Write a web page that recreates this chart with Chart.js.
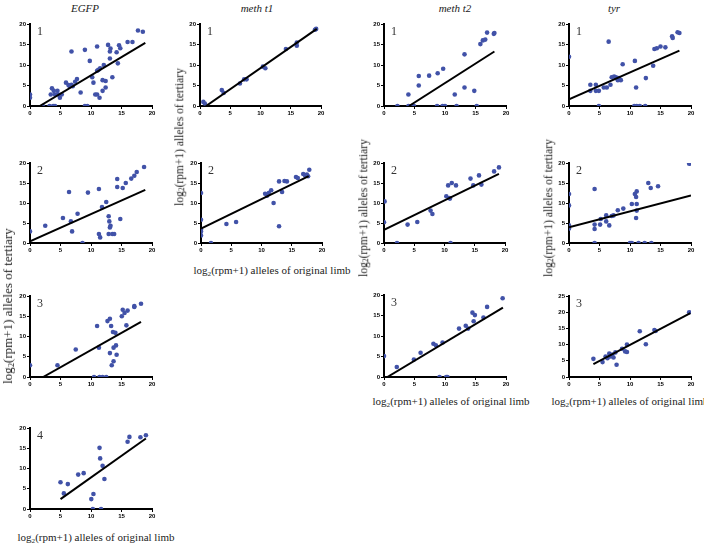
<!DOCTYPE html>
<html>
<head>
<meta charset="utf-8">
<script src="https://cdn.jsdelivr.net/npm/chart.js@4.4.1/dist/chart.umd.min.js"></script>
<style>
  body { margin: 0; background: #fff; width: 704px; height: 547px; position: relative; overflow: hidden; }
  canvas { position: absolute; }
  .txt { position: absolute; font-family: "Liberation Serif", "Times New Roman", serif; font-size: 11px; color: #222; white-space: nowrap; transform: translate(-50%, -50%); }
  .ttl { font-style: italic; font-size: 11px; }
  .rot { transform: translate(-50%, -50%) rotate(-90deg); font-size: 11.5px; }
  .big { font-size: 13px; }
  sub { font-size: 0.65em; vertical-align: -0.2em; }
</style>
</head>
<body>
<script>
// x = log2(rpm+1) original limb, y = log2(rpm+1) tertiary
const egfp1 = [[0,2.8],[0,2.0],[2.1,0],[3.2,0],[3.8,0],[4.1,0],[3.6,4.3],[3.9,3.7],[3.4,2.8],[4.1,2.8],
  [4.5,3.7],[4.6,2.8],[4.9,2.0],[5.2,2.8],[5.9,5.7],[6.3,5.1],[6.5,4.8],[6.8,5.2],[7.0,4.8],[6.8,13.3],
  [7.4,5.9],[7.7,6.6],[8.3,3.3],[9.0,13.7],[9.0,0],[9.4,0],[9.8,11],[10.2,7],[10.4,5.7],[11,8.6],
  [11,14.5],[10.7,2.8],[11,2.8],[11.4,2.0],[11.2,8.8],[11.5,9.2],[11.9,3.7],[11.9,6.3],[12.1,10],[12.4,6.1],
  [12.4,4.5],[12.8,14.9],[13.1,13.3],[13.1,11.6],[13.2,14],[13.5,7],[14.2,13.1],[14.4,10.4],[14.6,14.8],[14.8,14.1],
  [16,15.6],[16.8,15.6],[17.7,18.4],[18.5,18.1]];
const egfp2 = [[0,2.9],[2.5,4.3],[5.4,6.25],[6.4,12.75],[6.7,5.4],[6.9,2.9],[7.8,7.3],[8.6,0],[9.5,12.6],[11.3,13.5],
  [11.3,2.25],[11.5,1.4],[11.8,9],[12.5,10.25],[12.9,6.7],[13,5.4],[13.2,4.3],[13.1,3.9],[12.9,2.25],[13.5,2.25],
  [13.8,2.25],[14.3,16],[14.3,14],[14.8,6],[15.2,13.75],[15.7,15],[16.6,16.1],[17.1,16.8],[17.5,17.75],[18.7,19]];
const egfp3 = [[0,2.9],[4.5,2.9],[7.5,6.8],[10.5,0],[11.4,0],[11.9,0],[12.5,0],[11,12.6],[11.3,7.25],[12.7,13.8],
  [13.1,14.4],[13.3,12.6],[13.1,5.9],[13.4,2.9],[13.7,3.9],[13.6,11.1],[14,10.9],[13.7,7.25],[14.1,7.8],[14.2,5.5],
  [15.05,15],[15.2,16.6],[15.5,15.8],[15.8,12.75],[16,16.4],[17.1,17.5],[17.1,17.3],[18.2,18.1]];
const egfp4 = [[5,6.6],[5.55,3.85],[6.2,6.15],[7.9,8.5],[8.8,8.85],[10.05,2.45],[10.3,0],[10.4,3.7],[11.4,15.1],[11.5,12.5],
  [11.65,0],[11.9,10.65],[12.2,7.4],[16,16.6],[16.3,17.8],[18.1,17.7],[19,18.2]];
const metht1_1 = [[0.55,1],[0.8,0.6],[3.6,3.9],[3.9,3.2],[6.6,5.5],[7.3,6.5],[7.7,6.5],[10.4,9.6],[10.8,9.2],[14.2,13.9],
  [16,15.5],[16,14.7],[19,18.6],[19.2,18.8]];
const metht1_2 = [[0,12.5],[0,5.8],[0,3.3],[0,2.9],[0,1.9],[1.65,0],[4.2,4.75],[5.8,5.25],[10.6,12.3],[10.9,11.8],
  [11.2,12.5],[11.6,13.2],[12,10],[12.9,15.4],[12.9,4.2],[13.4,12.75],[13.8,15.5],[14.2,15.4],[15.7,16.5],[16,16.25],
  [16.9,17.25],[17.2,16.9],[17.5,17.1],[17.7,16.7],[17.9,18.3]];
const metht2_1 = [[2.2,0],[4,0],[4.6,0],[4.9,0],[4,2.8],[5.7,5],[5.7,7.3],[7.4,7.4],[8.8,8],[9.7,9.1],
  [8.7,0],[9.6,0],[10,0],[11.9,0],[15.2,0],[11.6,2.8],[13.2,12.6],[13.2,4.5],[14.8,3.7],[15.8,15.1],
  [16.2,16],[16.6,16.2],[16.9,17.9],[18,17.6],[18.1,17.8]];
const metht2_2 = [[0.1,10.4],[0,5.2],[2.15,0],[3.9,4.6],[5.5,5.25],[7.7,8.1],[8,7.25],[10.3,11.7],[10.6,14.4],[10.8,11.25],
  [10.9,11.1],[11.2,15],[11,0],[11.9,14.4],[14.3,16.1],[14.75,14.4],[15.7,16.9],[16.1,14.6],[18.2,17.9],[19,18.9]];
const metht2_3 = [[0,5.1],[2.1,2.45],[4.9,4.25],[6,5.9],[8.1,8.1],[8.5,7.75],[9.6,8.4],[9.1,0],[10.2,0],[10.4,0],
  [12.3,11.8],[13.4,12.5],[13.8,11.8],[14.5,15.7],[14.7,13.6],[14.9,15.1],[16.3,14.5],[16.9,17.1],[19.45,19.2]];
const tyr1 = [[0,12],[3.5,5.2],[3.5,3.7],[4.4,5.2],[4.4,3.7],[4.9,3.7],[4.9,0],[5.7,4.5],[6.2,4.5],[6.8,5.2],
  [6.5,15.7],[7,7],[7.4,7.2],[7.7,7],[8,6.3],[8.2,6.8],[8.5,6.3],[8.8,10.2],[10.8,11],[11,4.5],
  [10.7,0],[11.1,0],[11.6,0],[12.5,0],[12.6,6.8],[13.8,9.8],[14,13.9],[14.4,14.1],[15,14.5],[15.8,14.3],
  [16.9,17],[17,16.6],[17.8,18],[18.1,17.8]];
const tyr2 = [[0,12.25],[0,9.4],[0,4.4],[0,3.6],[4.2,13.5],[4.2,4.6],[4.2,3.5],[4.2,0],[5.1,4.6],[5.2,6],
  [6.1,6.9],[6.1,5.4],[6.6,4.4],[7,6.75],[7.3,6.9],[8,8.2],[8.9,8.6],[10,0],[10.3,0],[10.3,9.75],
  [10.8,12.25],[11.1,12.9],[11,11.5],[11.1,9.75],[11.1,8.1],[11,6.25],[11.4,0],[12.4,0],[13.5,0],[13,15],
  [13.4,13.75],[14.6,14.2],[19.7,19.8]];
const tyr3 = [[4,5.6],[5.5,4.6],[6,6.35],[6.3,5.8],[6.6,7.2],[6.8,6.35],[7.1,6.9],[7.3,6],[7.6,7.6],[7.8,3.8],
  [8.7,8.7],[9.2,7.9],[9.5,10],[9.5,7.7],[11.6,14.1],[12.6,10.1],[14,14.5],[14.2,14.2],[19.7,20]];

// regression line endpoints
const egfp1Fit = [[1.6,0],[18.9,15.4]];
const egfp2Fit = [[0,0.4],[18.9,13.3]];
const egfp3Fit = [[2.15,0],[18.2,13.6]];
const egfp4Fit = [[5,2.45],[19,17.4]];
const metht1_1Fit = [[1,0],[19.3,18.8]];
const metht1_2Fit = [[0,3.6],[17.8,16.7]];
const metht2_1Fit = [[4.1,0],[18.1,13.3]];
const metht2_2Fit = [[0,3.3],[19,17.3]];
const metht2_3Fit = [[0.55,0],[19.5,16.9]];
const tyr1Fit = [[0,1.6],[18.1,13.5]];
const tyr2Fit = [[0,3.9],[20,11.9]];
const tyr3Fit = [[4,4],[19.9,19.7]];

const panels = [
  { pts: egfp1, fit: egfp1Fit, num: '1', yMax: 20, l: 30, r: 152, t: 24, b: 106 },
  { pts: egfp2, fit: egfp2Fit, num: '2', yMax: 20, l: 30, r: 152, t: 163, b: 243 },
  { pts: egfp3, fit: egfp3Fit, num: '3', yMax: 20, l: 30, r: 152, t: 296, b: 377 },
  { pts: egfp4, fit: egfp4Fit, num: '4', yMax: 20, l: 30, r: 152, t: 428, b: 509 },
  { pts: metht1_1, fit: metht1_1Fit, num: '1', yMax: 20, l: 200, r: 321, t: 24, b: 106 },
  { pts: metht1_2, fit: metht1_2Fit, num: '2', yMax: 20, l: 201, r: 322, t: 163, b: 243 },
  { pts: metht2_1, fit: metht2_1Fit, num: '1', yMax: 20, l: 384, r: 506, t: 24, b: 106 },
  { pts: metht2_2, fit: metht2_2Fit, num: '2', yMax: 20, l: 384, r: 505, t: 163, b: 243 },
  { pts: metht2_3, fit: metht2_3Fit, num: '3', yMax: 20, l: 384, r: 506, t: 295, b: 377 },
  { pts: tyr1, fit: tyr1Fit, num: '1', yMax: 20, l: 569, r: 691, t: 24, b: 106 },
  { pts: tyr2, fit: tyr2Fit, num: '2', yMax: 20, l: 569, r: 691, t: 163, b: 243 },
  { pts: tyr3, fit: tyr3Fit, num: '3', yMax: 25, l: 569, r: 691, t: 296, b: 377 }
];

const titles = [
  { text: 'EGFP', x: 85, y: 8 },
  { text: 'meth t1', x: 257, y: 8 },
  { text: 'meth t2', x: 455, y: 8 },
  { text: 'tyr', x: 614, y: 8 }
];
const yLabelPos = [[8, 306, 'big'], [180, 137, ''], [364, 208, ''], [549, 208, '']];
const xLabelPos = [[96, 538], [272, 271], [451, 402], [630, 402]];

const Y_LABEL = 'log<sub>2</sub>(rpm+1) alleles of tertiary';
const X_LABEL = 'log<sub>2</sub>(rpm+1) alleles of original limb';

const PAD_L = 22, PAD_T = 6, PAD_R = 7, PAD_B = 12;

const panelNumber = {
  id: 'panelNumber',
  afterDraw(chart, args, opts) {
    const { ctx, chartArea } = chart;
    ctx.save();
    ctx.font = '12px "Liberation Serif", serif';
    ctx.fillStyle = '#333';
    ctx.textBaseline = 'top';
    ctx.fillText(opts.text, chartArea.left + 7, chartArea.top + 2);
    ctx.restore();
  }
};

function toXY(arr) {
  return arr.map(p => ({ x: p[0], y: p[1] }));
}

function axis(max, step, fit) {
  return {
    type: 'linear',
    min: 0,
    max: max,
    afterFit: fit,
    afterBuildTicks: s => { s.ticks = []; for (let v = 0; v <= max; v += step) s.ticks.push({ value: v }); },
    border: { display: true, color: '#000', width: 2 },
    grid: { drawOnChartArea: false, drawTicks: true, tickLength: 3, color: '#000', lineWidth: 1 },
    ticks: { color: '#000', padding: 1, font: { family: 'Arial, "Liberation Sans", sans-serif', size: 6, weight: 'bold' } }
  };
}

function makePanel(p) {
  const w = PAD_L + (p.r - p.l) + PAD_R;
  const h = PAD_T + (p.b - p.t) + PAD_B;
  const c = document.createElement('canvas');
  c.width = w;
  c.height = h;
  c.style.left = (p.l - PAD_L) + 'px';
  c.style.top = (p.t - PAD_T) + 'px';
  c.style.width = w + 'px';
  c.style.height = h + 'px';
  document.body.appendChild(c);

  new Chart(c.getContext('2d'), {
    type: 'scatter',
    data: {
      datasets: [{
        data: toXY(p.fit),
        showLine: true,
        borderColor: '#000',
        borderWidth: 2,
        pointRadius: 0,
        order: 1
      }, {
        data: toXY(p.pts),
        backgroundColor: '#4152a8',
        borderWidth: 0,
        pointRadius: 2.3,
        order: 2
      }]
    },
    options: {
      responsive: false,
      animation: false,
      devicePixelRatio: 1,
      layout: { padding: { left: 0, top: PAD_T, right: PAD_R, bottom: 0 } },
      plugins: {
        legend: { display: false },
        tooltip: { enabled: false },
        panelNumber: { text: p.num }
      },
      scales: {
        x: axis(20, 5, s => { s.height = PAD_B; }),
        y: axis(p.yMax, 5, s => { s.width = PAD_L; })
      }
    },
    plugins: [panelNumber]
  });
}

panels.forEach(makePanel);

function addText(html, x, y, cls) {
  const d = document.createElement('div');
  d.className = 'txt ' + cls;
  d.innerHTML = html;
  d.style.left = x + 'px';
  d.style.top = y + 'px';
  document.body.appendChild(d);
}

titles.forEach(t => addText(t.text, t.x, t.y, 'ttl'));
yLabelPos.forEach(p => addText(Y_LABEL, p[0], p[1], 'rot ' + p[2]));
xLabelPos.forEach(p => addText(X_LABEL, p[0], p[1], ''));
</script>
</body>
</html>
